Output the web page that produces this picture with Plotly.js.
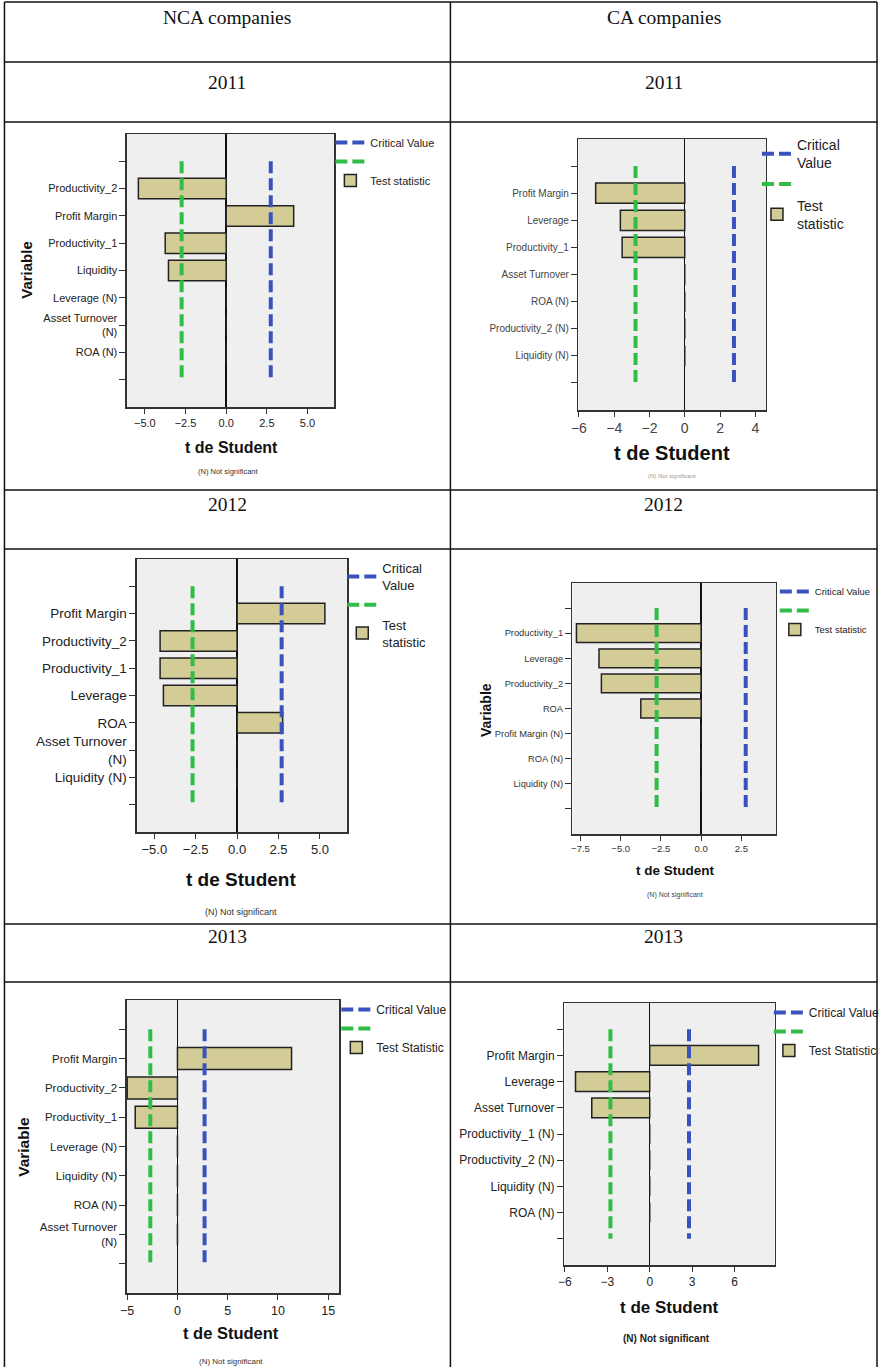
<!DOCTYPE html>
<html>
<head>
<meta charset="utf-8">
<script src="https://cdn.plot.ly/plotly-3.0.1.min.js"></script>
<style>
html, body { margin: 0; padding: 0; background: #ffffff; }
#chart { width: 885px; height: 1367px; }
</style>
</head>
<body>
<div id="chart"></div>
<script>
// ---------------- DATA ----------------
const columnHeaders = ['NCA companies', 'CA companies'];
const yearLabels = ['2011', '2012', '2013'];

const nca2011Labels = ['Productivity_2', 'Profit Margin', 'Productivity_1', 'Liquidity', 'Leverage (N)', 'Asset Turnover<br>(N)', 'ROA (N)'];
const nca2011T = [-5.4, 4.15, -3.75, -3.55, 0, 0, 0];
const nca2011Critical = 2.74;

const ca2011Labels = ['Profit Margin', 'Leverage', 'Productivity_1', 'Asset Turnover', 'ROA (N)', 'Productivity_2 (N)', 'Liquidity (N)'];
const ca2011T = [-5.05, -3.65, -3.55, 0, 0, 0, 0];
const ca2011Critical = 2.79;

const nca2012Labels = ['Profit Margin', 'Productivity_2', 'Productivity_1', 'Leverage', 'ROA', 'Asset Turnover<br>(N)', 'Liquidity (N)'];
const nca2012T = [5.3, -4.65, -4.65, -4.45, 2.75, 0, 0];
const nca2012Critical = 2.69;

const ca2012Labels = ['Productivity_1', 'Leverage', 'Productivity_2', 'ROA', 'Profit Margin (N)', 'ROA (N)', 'Liquidity (N)'];
const ca2012T = [-7.75, -6.35, -6.2, -3.75, 0, 0, 0];
const ca2012Critical = 2.77;

const nca2013Labels = ['Profit Margin', 'Productivity_2', 'Productivity_1', 'Leverage (N)', 'Liquidity (N)', 'ROA (N)', 'Asset Turnover<br>(N)'];
const nca2013T = [11.35, -5.0, -4.2, 0, 0, 0, 0];
const nca2013Critical = 2.7;

const ca2013Labels = ['Profit Margin', 'Leverage', 'Asset Turnover', 'Productivity_1 (N)', 'Productivity_2 (N)', 'Liquidity (N)', 'ROA (N)'];
const ca2013T = [7.7, -5.25, -4.1, 0, 0, 0, 0];
const ca2013Critical = 2.78;

const xTitleText = 't de Student';
const yTitleText = 'Variable';
const footnoteText = '(N) Not significant';

// ---------------- LAYOUT HELPERS ----------------
const W = 885, H = 1367;
const px = v => v / W;
const py = v => 1 - v / H;
const FONT = 'Liberation Sans, Arial, sans-serif';
const SERIF = 'Liberation Serif, Times New Roman, serif';

const COL_BAR = '#d4cc96';
const COL_GREEN = '#2fbd45';
const COL_BLUE = '#3a52be';

const panels = [
  { labels: nca2011Labels, values: nca2011T, crit: nca2011Critical,
    frame: [128, 134, 337, 407], xrange: [-6.1, 6.65], dtick: 2.5, fmt: '.1f',
    yTickSize: 11, xTickSize: 11, tickColor: '#222',
    legend: { left: 333, top: 128, size: 11, crit: 'Critical Value', test: 'Test statistic' },
    xTitle: { x: 233, y: 448, size: 16 }, yTitle: { x: 27, y: 270, size: 15 },
    foot: { x: 230, y: 471, size: 7.5, color: '#333', bold: false } },
  { labels: ca2011Labels, values: ca2011T, crit: ca2011Critical,
    frame: [583, 139, 772, 410], xrange: [-6.03, 4.6], dtick: 2, fmt: 'd',
    yTickSize: 10, xTickSize: 14, tickColor: '#444',
    legend: { left: 763, top: 129, size: 14, crit: 'Critical<br>Value', test: 'Test<br>statistic' },
    xTitle: { x: 677, y: 453, size: 20 }, yTitle: null,
    foot: { x: 677, y: 476, size: 6, color: '#999', bold: false } },
  { labels: nca2012Labels, values: nca2012T, crit: nca2012Critical,
    frame: [138, 559, 350, 832], xrange: [-6.05, 6.65], dtick: 2.5, fmt: '.1f',
    yTickSize: 13.5, xTickSize: 13, tickColor: '#222',
    legend: { left: 345, top: 553, size: 13, crit: 'Critical<br>Value', test: 'Test<br>statistic' },
    xTitle: { x: 243, y: 879, size: 19 }, yTitle: null,
    foot: { x: 243, y: 912, size: 9, color: '#333', bold: false } },
  { labels: ca2012Labels, values: ca2012T, crit: ca2012Critical,
    frame: [577, 583, 782, 834], xrange: [-8.0, 4.64], dtick: 2.5, fmt: '.1f',
    yTickSize: 9.3, xTickSize: 9.5, tickColor: '#333',
    legend: { left: 781, top: 577, size: 9.5, crit: 'Critical Value', test: 'Test statistic' },
    xTitle: { x: 680, y: 870, size: 13.5 }, yTitle: { x: 490, y: 710, size: 14 },
    foot: { x: 680, y: 895, size: 7, color: '#444', bold: false } },
  { labels: nca2013Labels, values: nca2013T, crit: nca2013Critical,
    frame: [128, 1000, 342, 1293], xrange: [-5.02, 16.1], dtick: 5, fmt: 'd',
    yTickSize: 11.5, xTickSize: 12.5, tickColor: '#222',
    legend: { left: 339, top: 995, size: 12, crit: 'Critical Value', test: 'Test Statistic' },
    xTitle: { x: 233, y: 1333, size: 16.5 }, yTitle: { x: 23, y: 1147, size: 15.5 },
    foot: { x: 233, y: 1361, size: 8, color: '#333', bold: false } },
  { labels: ca2013Labels, values: ca2013T, crit: ca2013Critical,
    frame: [569, 1003, 781, 1265], xrange: [-6.03, 8.85], dtick: 3, fmt: 'd',
    yTickSize: 12, xTickSize: 12, tickColor: '#222',
    legend: { left: 775, top: 998, size: 12, crit: 'Critical Value', test: 'Test Statistic' },
    xTitle: { x: 675, y: 1307, size: 17 }, yTitle: null,
    foot: { x: 672, y: 1338, size: 10, color: '#222', bold: true } }
];

const traces = [];
const layout = {
  width: W, height: H,
  margin: { l: 0, r: 0, t: 0, b: 0, pad: 0 },
  paper_bgcolor: '#ffffff',
  plot_bgcolor: '#efefef',
  showlegend: true,
  bargap: 0,
  font: { family: FONT, color: '#222' },
  annotations: [],
  shapes: []
};

panels.forEach((p, i) => {
  const k = i + 1;
  const sfx = k === 1 ? '' : String(k);
  const xref = 'x' + sfx, yref = 'y' + sfx;
  const legendId = 'legend' + sfx;
  const n = p.labels.length;
  const positions = p.labels.map((_, j) => j + 1);
  const [l, t, r, b] = p.frame;

  layout['xaxis' + sfx] = {
    domain: [px(l), px(r)], range: p.xrange, anchor: yref,
    tick0: 0, dtick: p.dtick, tickformat: p.fmt,
    ticks: 'outside', ticklen: 5, tickwidth: 1, tickcolor: '#333',
    showline: true, mirror: true, linecolor: '#333', linewidth: 1.5,
    showgrid: false, zeroline: true, zerolinecolor: '#111', zerolinewidth: 1.5,
    tickfont: { family: FONT, size: p.xTickSize, color: p.tickColor },
    fixedrange: true
  };
  layout['yaxis' + sfx] = {
    domain: [py(b), py(t)], range: [n + 2, -1], anchor: xref,
    tickmode: 'array',
    tickvals: [0].concat(positions, [n + 1]),
    ticktext: [''].concat(p.labels, ['']),
    ticks: 'outside', ticklen: 6, tickwidth: 1, tickcolor: '#333',
    showline: true, mirror: true, linecolor: '#333', linewidth: 1.5,
    showgrid: false, zeroline: false,
    tickfont: { family: FONT, size: p.yTickSize, color: p.tickColor },
    fixedrange: true
  };
  layout[legendId] = {
    x: px(p.legend.left), y: py(p.legend.top), xanchor: 'left', yanchor: 'top',
    bgcolor: 'rgba(0,0,0,0)', borderwidth: 0,
    font: { family: FONT, size: p.legend.size, color: '#222' },
    traceorder: 'reversed', itemwidth: 30, tracegroupgap: 0
  };

  traces.push({
    type: 'bar', orientation: 'h', x: p.values, y: positions, width: 0.75,
    marker: { color: COL_BAR, line: { color: '#222', width: 1.5 } },
    name: p.legend.test, xaxis: xref, yaxis: yref, legend: legendId, hoverinfo: 'skip'
  });
  traces.push({
    type: 'scatter', mode: 'lines', x: [-p.crit, -p.crit], y: [0, n + 1],
    line: { color: COL_GREEN, width: 4, dash: '12px,5px' },
    name: ' ', xaxis: xref, yaxis: yref, legend: legendId, hoverinfo: 'skip'
  });
  traces.push({
    type: 'scatter', mode: 'lines', x: [p.crit, p.crit], y: [0, n + 1],
    line: { color: COL_BLUE, width: 4, dash: '12px,5px' },
    name: p.legend.crit, xaxis: xref, yaxis: yref, legend: legendId, hoverinfo: 'skip'
  });

  layout.annotations.push({
    xref: 'paper', yref: 'paper', x: px(p.xTitle.x), y: py(p.xTitle.y),
    xanchor: 'center', yanchor: 'middle', showarrow: false,
    text: '<b>' + xTitleText + '</b>', font: { family: FONT, size: p.xTitle.size, color: '#111' }
  });
  if (p.yTitle) {
    layout.annotations.push({
      xref: 'paper', yref: 'paper', x: px(p.yTitle.x), y: py(p.yTitle.y),
      xanchor: 'center', yanchor: 'middle', showarrow: false, textangle: -90,
      text: '<b>' + yTitleText + '</b>', font: { family: FONT, size: p.yTitle.size, color: '#111' }
    });
  }
  layout.annotations.push({
    xref: 'paper', yref: 'paper', x: px(p.foot.x), y: py(p.foot.y),
    xanchor: 'center', yanchor: 'middle', showarrow: false,
    text: p.foot.bold ? '<b>' + footnoteText + '</b>' : footnoteText,
    font: { family: FONT, size: p.foot.size, color: p.foot.color }
  });
});

// ---------------- TABLE (headers + grid) ----------------
const colCenters = [229, 669];
const headerY = 17;
const yearY = [82, 505, 936];
columnHeaders.forEach((h, c) => {
  layout.annotations.push({
    xref: 'paper', yref: 'paper', x: px(colCenters[c]), y: py(headerY),
    xanchor: 'center', yanchor: 'middle', showarrow: false,
    text: h, font: { family: SERIF, size: 19.5, color: '#111' }
  });
  yearLabels.forEach((yr, r) => {
    layout.annotations.push({
      xref: 'paper', yref: 'paper', x: px(colCenters[c]), y: py(yearY[r]),
      xanchor: 'center', yanchor: 'middle', showarrow: false,
      text: yr, font: { family: SERIF, size: 19.5, color: '#111' }
    });
  });
});

const gridRows = [2, 62, 122, 490, 549, 924, 982];
const gridCols = [4.5, 454, 884];
gridRows.forEach(yv => {
  layout.shapes.push({ type: 'line', xref: 'paper', yref: 'paper',
    x0: px(gridCols[0]), x1: px(gridCols[2]), y0: py(yv), y1: py(yv),
    line: { color: '#111', width: 1.5 } });
});
gridCols.forEach(xv => {
  layout.shapes.push({ type: 'line', xref: 'paper', yref: 'paper',
    x0: px(xv), x1: px(xv), y0: py(gridRows[0]), y1: py(H),
    line: { color: '#111', width: 1.5 } });
});

Plotly.newPlot('chart', traces, layout, { displayModeBar: false, staticPlot: true });
</script>
</body>
</html>
